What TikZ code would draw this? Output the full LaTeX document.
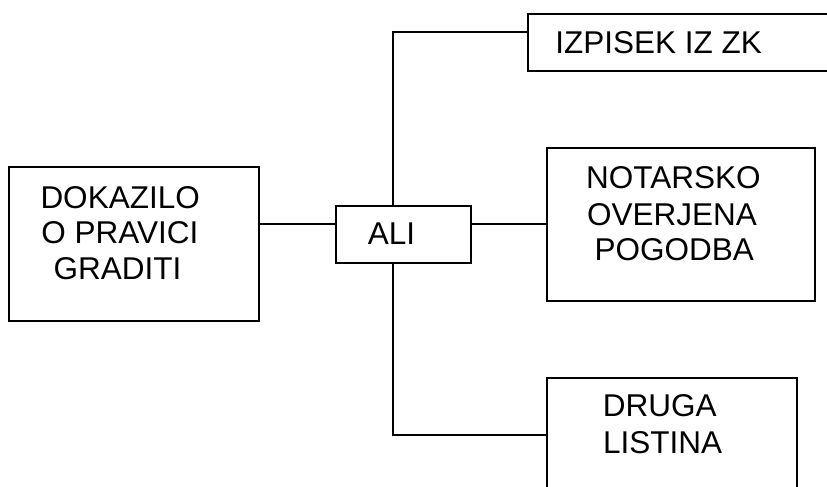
\documentclass[tikz,border=0pt]{standalone}
\usepackage{fontspec}
\setmainfont{Liberation Sans}
\begin{document}
\begin{tikzpicture}[x=1pt,y=-1pt,
  box/.style={draw=black,line width=1.6pt,rectangle,inner sep=0pt,anchor=north west},
  lbl/.style={anchor=base west,inner sep=0pt,font=\fontsize{31.5}{37}\selectfont},
  conn/.style={draw=black,line width=1.6pt}]
\clip (0,0) rectangle (827,487);
\fill[white] (0,0) rectangle (827,487);
% boxes
\node[box,minimum width=250pt,minimum height=154pt] (dok) at (8,166) {};
\node[box,minimum width=135pt,minimum height=57pt] (ali) at (335,205) {};
\node[box,minimum width=310pt,minimum height=57pt] (izp) at (527,13) {};
\node[box,minimum width=268pt,minimum height=153pt] (not) at (546,147) {};
\node[box,minimum width=250pt,minimum height=130pt] (dru) at (546,377) {};
% texts
\node[lbl] (t1) at (40.3,208) {DOKAZILO};
\node[lbl] (t2) at (41.2,243.5) {O PRAVICI};
\node[lbl] (t3) at (53.3,279) {GRADITI};
\node[lbl] (t4) at (367.7,244.3) {ALI};
\node[lbl] (t5) at (555.2,53) {IZPISEK IZ ZK};
\node[lbl] (t6) at (586,188.3) {NOTARSKO};
\node[lbl] (t7) at (586.8,225) {OVERJENA};
\node[lbl] (t8) at (594.3,260.3) {POGODBA};
\node[lbl] (t9) at (602.6,416.7) {DRUGA};
\node[lbl] (t10) at (602.8,453.3) {LISTINA};
% junction coordinates
\coordinate (j) at (393,224);
\coordinate (jt) at (393,32);
\coordinate (jb) at (393,435);
% connectors
\draw[conn] (dok.east |- j) -- (ali.west |- j);
\draw[conn] (ali.east |- j) -- (not.west |- j);
\draw[conn] (ali.north -| j) -- (jt) -- (izp.west |- jt);
\draw[conn] (ali.south -| j) -- (jb) -- (dru.west |- jb);
\end{tikzpicture}
\end{document}
